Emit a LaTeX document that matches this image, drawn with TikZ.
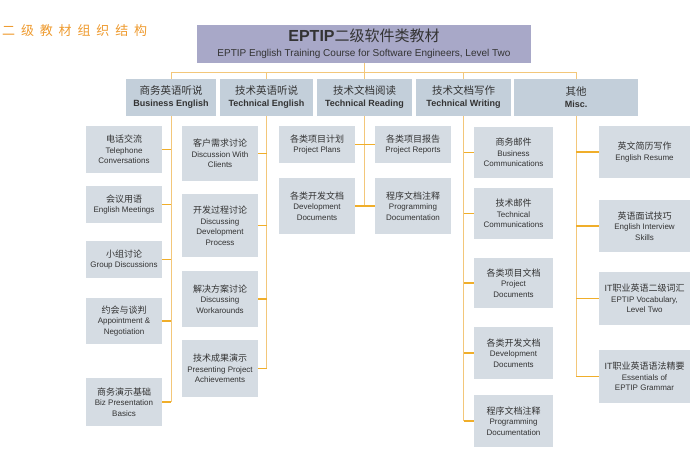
\documentclass[tikz,border=0pt]{standalone}
\usepackage{fontspec}
\setmainfont{Liberation Sans}
\newfontfamily\cjk{Noto Sans CJK SC}
\newfontfamily\cjktitle[LetterSpace=45]{Noto Sans CJK SC}
\usetikzlibrary{backgrounds}
\definecolor{topfill}{HTML}{A8A8C8}
\definecolor{l1fill}{HTML}{C3CFDA}
\definecolor{l2fill}{HTML}{D5DCE3}
\definecolor{conn}{HTML}{F3C77A}
\definecolor{stubc}{HTML}{F0AE2A}
\definecolor{titleor}{HTML}{EE9A2E}
\definecolor{txt}{HTML}{333333}
\newcommand\zhA[1]{{\cjk\mdseries\fontsize{10.5}{12}\selectfont #1}}
\newcommand\zhB[1]{{\cjk\fontsize{9}{11}\selectfont #1}}
\tikzset{
 topbox/.style={fill=topfill, inner sep=0pt, minimum width=334pt, minimum height=38pt, align=center, text=txt, font=\fontsize{10}{15}\selectfont},
 lvlbox/.style={fill=l1fill, inner sep=0pt, minimum height=37pt, align=center, text=txt, font=\fontsize{9}{12}\selectfont\bfseries},
 leafbox/.style={fill=l2fill, inner sep=0pt, align=center, text=txt, font=\fontsize{8}{10.5}\selectfont},
 vline/.style={draw=conn, line width=1pt},
 stub/.style={draw=stubc, line width=1.8pt},
}
\begin{document}
\begin{tikzpicture}[x=1pt,y=-1pt]
\useasboundingbox (0,0) rectangle (700,453);
\node[anchor=west, text=titleor, inner sep=0pt, font=\cjktitle\fontsize{13}{13}\selectfont] (title) at (2,31) {二级教材组织结构};
% top
\node[topbox] (top) at (364,44) {{\fontsize{16}{18}\selectfont\bfseries EPTIP}{\cjk\fontsize{15}{18}\selectfont 二级软件类教材}\\EPTIP English Training Course for Software Engineers, Level Two};
% level 1
\node[lvlbox, minimum width=90pt] (biz) at (171,97.5) {\zhA{商务英语听说}\\Business English};
\node[lvlbox, minimum width=93pt] (te) at (266.5,97.5) {\zhA{技术英语听说}\\Technical English};
\node[lvlbox, minimum width=95pt] (tr) at (364.5,97.5) {\zhA{技术文档阅读}\\Technical Reading};
\node[lvlbox, minimum width=95pt] (tw) at (463.5,97.5) {\zhA{技术文档写作}\\Technical Writing};
\node[lvlbox, minimum width=124pt] (misc) at (576,97.5) {\zhA{其他}\\Misc.};
% column 1
\node[leafbox, minimum width=76pt, minimum height=47pt] (c11) at (124,149.5) {\zhB{电话交流}\\Telephone\\Conversations};
\node[leafbox, minimum width=76pt, minimum height=37pt] (c12) at (124,204.5) {\zhB{会议用语}\\English Meetings};
\node[leafbox, minimum width=76pt, minimum height=37pt] (c13) at (124,259.5) {\zhB{小组讨论}\\Group Discussions};
\node[leafbox, minimum width=76pt, minimum height=46pt] (c14) at (124,321) {\zhB{约会与谈判}\\Appointment \&\\Negotiation};
\node[leafbox, minimum width=76pt, minimum height=48pt] (c15) at (124,402) {\zhB{商务演示基础}\\Biz Presentation\\Basics};
% column 2
\node[leafbox, minimum width=76pt, minimum height=55pt] (c21) at (220,153.5) {\zhB{客户需求讨论}\\Discussion With\\Clients};
\node[leafbox, minimum width=76pt, minimum height=63pt] (c22) at (220,225.5) {\zhB{开发过程讨论}\\Discussing\\Development\\Process};
\node[leafbox, minimum width=76pt, minimum height=56pt] (c23) at (220,299) {\zhB{解决方案讨论}\\Discussing\\Workarounds};
\node[leafbox, minimum width=76pt, minimum height=57pt] (c24) at (220,368.5) {\zhB{技术成果演示}\\Presenting Project\\Achievements};
% column 3
\node[leafbox, minimum width=76pt, minimum height=37pt] (c31) at (317,144.5) {\zhB{各类项目计划}\\Project Plans};
\node[leafbox, minimum width=76pt, minimum height=56pt] (c32) at (317,206) {\zhB{各类开发文档}\\Development\\Documents};
\node[leafbox, minimum width=76pt, minimum height=37pt] (c33) at (413,144.5) {\zhB{各类项目报告}\\Project Reports};
\node[leafbox, minimum width=76pt, minimum height=56pt] (c34) at (413,206) {\zhB{程序文档注释}\\Programming\\Documentation};
% column 4
\node[leafbox, minimum width=79pt, minimum height=51pt] (c41) at (513.5,152.5) {\zhB{商务邮件}\\Business\\Communications};
\node[leafbox, minimum width=79pt, minimum height=51pt] (c42) at (513.5,213.5) {\zhB{技术邮件}\\Technical\\Communications};
\node[leafbox, minimum width=79pt, minimum height=50pt] (c43) at (513.5,283) {\zhB{各类项目文档}\\Project\\Documents};
\node[leafbox, minimum width=79pt, minimum height=52pt] (c44) at (513.5,353) {\zhB{各类开发文档}\\Development\\Documents};
\node[leafbox, minimum width=79pt, minimum height=52pt] (c45) at (513.5,421) {\zhB{程序文档注释}\\Programming\\Documentation};
% column 5
\node[leafbox, minimum width=91pt, minimum height=52pt] (c51) at (644.5,152) {\zhB{英文简历写作}\\English Resume};
\node[leafbox, minimum width=91pt, minimum height=52pt] (c52) at (644.5,226) {\zhB{英语面试技巧}\\English Interview\\Skills};
\node[leafbox, minimum width=91pt, minimum height=53pt] (c53) at (644.5,298.5) {{\fontsize{9}{11}\selectfont IT}\zhB{职业英语二级词汇}\\EPTIP Vocabulary,\\Level Two};
\node[leafbox, minimum width=91pt, minimum height=53pt] (c54) at (644.5,376.5) {{\fontsize{9}{11}\selectfont IT}\zhB{职业英语语法精要}\\Essentials of\\EPTIP Grammar};
% connectors
\begin{scope}[on background layer]
\draw[vline] (top.south) -- ++(0,9) coordinate (j);
\draw[vline] (biz.north |- j) -- (misc.north |- j);
\draw[vline] (biz.north |- j) -- (biz.south |- c15.east);
\draw[vline] (te.north |- j) -- (te.south |- c24.east);
\draw[vline] (tr.north |- j) -- (tr.south |- c32.east);
\draw[vline] (tw.north |- j) -- (tw.south |- c45.west);
\draw[vline] (misc.north |- j) -- (misc.south |- c54.west);
\foreach \c in {c11,c12,c13,c14,c15}{\draw[stub] (\c.east) -- (biz.south |- \c.east);}
\foreach \c in {c21,c22,c23,c24}{\draw[stub] (\c.east) -- (te.south |- \c.east);}
\draw[stub] (c31.east) -- (c33.west);
\draw[stub] (c32.east) -- (c34.west);
\foreach \c in {c41,c42,c43,c44,c45}{\draw[stub] (\c.west) -- (tw.south |- \c.west);}
\foreach \c in {c51,c52,c53,c54}{\draw[stub] (\c.west) -- (misc.south |- \c.west);}
\end{scope}
\end{tikzpicture}
\end{document}
